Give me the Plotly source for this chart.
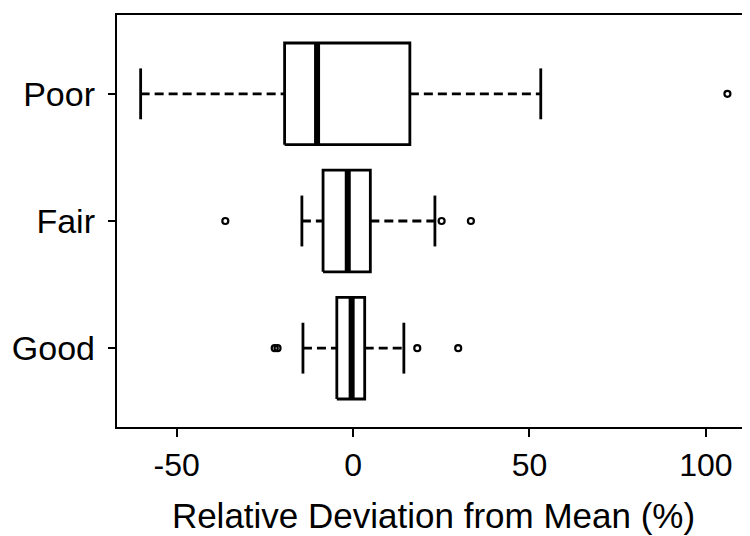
import plotly.graph_objects as go

# groups, bottom to top
groups = ["Good", "Fair", "Poor"]
positions = [1, 2, 3]

# box statistics (%)
q1 = [-4.6, -8.5, -19.4]
median = [-0.4, -1.5, -10.2]
q3 = [3.3, 4.9, 16.1]
whisker_lo = [-14.2, -14.5, -60.2]
whisker_hi = [14.4, 23.2, 53.2]

# outlying points per group
outliers = {
    "Good": [-22.2, -21.4, 18.2, 29.8],
    "Fair": [-36.2, 25.1, 33.4],
    "Poor": [106.1],
}

x_ticks = [-50, 0, 50, 100]
x_ticklabels = ["-50", "0", "50", "100"]

HALF_BOX = 0.4
HALF_STAPLE = 0.2
FONT = "Liberation Sans, Arial, sans-serif"


def box_paths():
    bx, by = [], []
    mx, my = [], []
    wx, wy = [], []
    sx, sy = [], []
    for p, a, m, b, lo, hi in zip(positions, q1, median, q3, whisker_lo, whisker_hi):
        bx += [a, b, b, a, a, None]
        by += [p - HALF_BOX, p - HALF_BOX, p + HALF_BOX, p + HALF_BOX, p - HALF_BOX, None]
        mx += [m, m, None]
        my += [p - HALF_BOX, p + HALF_BOX, None]
        wx += [lo, a, None, b, hi, None]
        wy += [p, p, None, p, p, None]
        sx += [lo, lo, None, hi, hi, None]
        sy += [p - HALF_STAPLE, p + HALF_STAPLE, None, p - HALF_STAPLE, p + HALF_STAPLE, None]
    return (bx, by), (mx, my), (wx, wy), (sx, sy)


(bx, by), (mx, my), (wx, wy), (sx, sy) = box_paths()

fig = go.Figure()
# dashed whiskers
fig.add_trace(go.Scatter(x=wx, y=wy, mode="lines",
                         line=dict(color="black", width=2.8, dash="9px,5px"),
                         hoverinfo="skip"))
# staples
fig.add_trace(go.Scatter(x=sx, y=sy, mode="lines",
                         line=dict(color="black", width=2.8), hoverinfo="skip"))
# boxes
fig.add_trace(go.Scatter(x=bx, y=by, mode="lines", fill="toself", fillcolor="white",
                         line=dict(color="black", width=2.8), hoverinfo="skip"))
# medians
fig.add_trace(go.Scatter(x=mx, y=my, mode="lines",
                         line=dict(color="black", width=6), hoverinfo="skip"))
# outliers
ox, oy = [], []
for g, p in zip(groups, positions):
    ox += outliers[g]
    oy += [p] * len(outliers[g])
fig.add_trace(go.Scatter(x=ox, y=oy, mode="markers",
                         marker=dict(symbol="circle-open", size=6, color="black",
                                     line=dict(width=2.2))))

fig.update_layout(
    width=750, height=536,
    showlegend=False,
    plot_bgcolor="white", paper_bgcolor="white",
    margin=dict(l=109, r=8, t=7, b=117),
    font=dict(family=FONT, size=32, color="black"),
    xaxis=dict(
        range=[-66.9, 112.5], tickvals=x_ticks, ticktext=x_ticklabels,
        showgrid=False, zeroline=False, automargin=False,
        showline=True, linecolor="black", linewidth=2.4, mirror=True,
        ticks="outside", ticklen=8, tickwidth=2, tickcolor="black",
        tickfont=dict(size=32),
        title=dict(text="Relative Deviation from Mean (%)", font=dict(size=35), standoff=22),
    ),
    yaxis=dict(
        range=[0.38, 3.62], tickvals=positions, ticktext=groups,
        showgrid=False, zeroline=False, automargin=False,
        showline=True, linecolor="black", linewidth=2.4, mirror=True,
        ticks="outside", ticklen=7, tickwidth=2, tickcolor="black",
        tickfont=dict(size=34),
        ticklabelstandoff=6,
    ),
)

fig.write_html("out.html")
